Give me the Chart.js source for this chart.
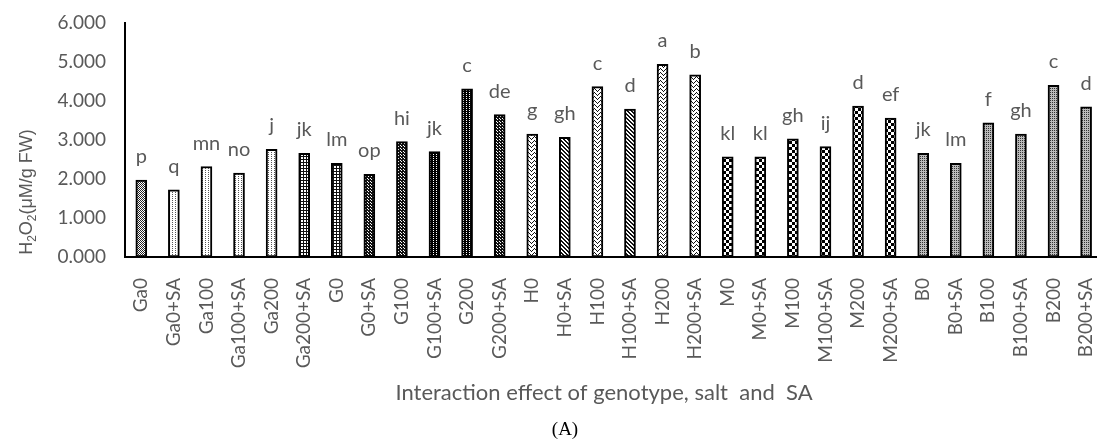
<!DOCTYPE html>
<html>
<head>
<meta charset="utf-8">
<script src="https://cdn.jsdelivr.net/npm/chart.js@4.4.1/dist/chart.umd.min.js"></script>
<style>
  html, body { margin: 0; padding: 0; background: #fff; overflow: hidden; }
  #wrap { width: 1112px; height: 441px; }
</style>
</head>
<body>
<div id="wrap"><canvas id="h2o2-chart" width="1112" height="441"></canvas></div>
<script>
// data
const treatments = ['Ga0', 'Ga0+SA', 'Ga100', 'Ga100+SA', 'Ga200', 'Ga200+SA',
  'G0', 'G0+SA', 'G100', 'G100+SA', 'G200', 'G200+SA',
  'H0', 'H0+SA', 'H100', 'H100+SA', 'H200', 'H200+SA',
  'M0', 'M0+SA', 'M100', 'M100+SA', 'M200', 'M200+SA',
  'B0', 'B0+SA', 'B100', 'B100+SA', 'B200', 'B200+SA'];
const h2o2Values = [1.97, 1.72, 2.32, 2.15, 2.76, 2.66,
  2.40, 2.12, 2.96, 2.70, 4.31, 3.65,
  3.15, 3.07, 4.37, 3.79, 4.94, 4.67,
  2.57, 2.57, 3.03, 2.83, 3.87, 3.56,
  2.66, 2.40, 3.44, 3.15, 4.40, 3.85];
const significanceLetters = ['p', 'q', 'mn', 'no', 'j', 'jk',
  'lm', 'op', 'hi', 'jk', 'c', 'de',
  'g', 'gh', 'c', 'd', 'a', 'b',
  'kl', 'kl', 'gh', 'ij', 'd', 'ef',
  'jk', 'lm', 'f', 'gh', 'c', 'd'];
const yMin = 0;
const yMax = 6;
const yStep = 1;

const xTitle = 'Interaction effect of genotype, salt  and  SA';
const panelTag = '(A)';

const canvas = document.getElementById('h2o2-chart');
const ctx = canvas.getContext('2d');

// small repeating fills, like the Excel pattern fills
function tile(w, h, draw) {
    const c = document.createElement('canvas');
    c.width = w;
    c.height = h;
    draw(c.getContext('2d'));
    return ctx.createPattern(c, 'repeat');
}

const fills = {
    fineGrey: tile(2, 2, g => {
        g.fillStyle = '#fff'; g.fillRect(0, 0, 2, 2);
        g.fillStyle = '#222'; g.fillRect(0, 0, 1, 1); g.fillRect(1, 1, 1, 1);
    }),
    lightDots: tile(3, 2, g => {
        g.fillStyle = '#fff'; g.fillRect(0, 0, 3, 2);
        g.fillStyle = '#555'; g.fillRect(1, 0, 1, 1);
    }),
    grid: tile(3, 3, g => {
        g.fillStyle = '#fff'; g.fillRect(0, 0, 3, 3);
        g.fillStyle = '#111'; g.fillRect(0, 0, 3, 1); g.fillRect(0, 0, 1, 3);
    }),
    darkDots: tile(3, 3, g => {
        g.fillStyle = '#111'; g.fillRect(0, 0, 3, 3);
        g.fillStyle = '#fff'; g.fillRect(1, 1, 1, 1); g.fillRect(2, 2, 1, 1);
    }),
    blackLine: tile(3, 2, g => {
        g.fillStyle = '#000'; g.fillRect(0, 0, 3, 2);
        g.fillStyle = '#fff'; g.fillRect(1, 0, 1, 1);
    }),
    weave: tile(6, 4, g => {
        g.fillStyle = '#fff'; g.fillRect(0, 0, 6, 4);
        g.fillStyle = '#111';
        g.fillRect(0, 0, 1, 1); g.fillRect(1, 1, 1, 1); g.fillRect(2, 2, 1, 1);
        g.fillRect(3, 3, 1, 1); g.fillRect(4, 2, 1, 1); g.fillRect(5, 1, 1, 1);
    }),
    weaveDark: tile(4, 4, g => {
        g.fillStyle = '#fff'; g.fillRect(0, 0, 4, 4);
        g.fillStyle = '#111';
        g.fillRect(0, 0, 2, 1); g.fillRect(1, 1, 2, 1); g.fillRect(2, 2, 2, 1); g.fillRect(0, 3, 1, 1); g.fillRect(3, 3, 1, 1);
    }),
    checker: tile(6, 6, g => {
        g.fillStyle = '#fff'; g.fillRect(0, 0, 6, 6);
        g.fillStyle = '#000'; g.fillRect(0, 0, 3, 3); g.fillRect(3, 3, 3, 3);
    }),
    greyDots: tile(2, 2, g => {
        g.fillStyle = '#bbb'; g.fillRect(0, 0, 2, 2);
        g.fillStyle = '#333'; g.fillRect(0, 0, 1, 1);
    })
};

const barFills = [
    'fineGrey', 'lightDots', 'lightDots', 'lightDots', 'lightDots', 'grid',
    'grid', 'darkDots', 'darkDots', 'blackLine', 'blackLine', 'darkDots',
    'weave', 'weaveDark', 'weave', 'weaveDark', 'weave', 'weave',
    'checker', 'checker', 'checker', 'checker', 'checker', 'checker',
    'greyDots', 'greyDots', 'greyDots', 'greyDots', 'greyDots', 'greyDots'
].map(k => fills[k]);

const textGrey = '#595959';

// letters over the bars
const letterLabels = {
    id: 'letterLabels',
    afterDatasetsDraw(chart) {
        const c = chart.ctx;
        const meta = chart.getDatasetMeta(0);
        c.save();
        c.font = '20px Lato';
        c.fillStyle = textGrey;
        c.textAlign = 'center';
        c.textBaseline = 'alphabetic';
        meta.data.forEach((bar, i) => {
            c.fillText(significanceLetters[i], bar.x, bar.y - 17);
        });
        c.restore();
    }
};

// axis titles (the y one needs subscripts) and the panel tag
const titles = {
    id: 'titles',
    afterDraw(chart) {
        const c = chart.ctx;
        c.save();
        c.fillStyle = textGrey;
        c.textBaseline = 'middle';
        c.textAlign = 'center';
        c.font = '22px Lato';
        c.fillText(xTitle, 604, 393);
        c.fillStyle = '#000';
        c.font = '19px "Liberation Serif"';
        c.fillText(panelTag, 565, 430);

        const parts = [['H', 0], ['2', 1], ['O', 0], ['2', 1], ['(\u03bcM/g FW)', 0]];
        const big = '18px "Liberation Sans"';
        const small = '12px "Liberation Sans"';
        let total = 0;
        parts.forEach(([t, sub]) => { c.font = sub ? small : big; total += c.measureText(t).width; });
        c.translate(32, 192);
        c.rotate(-Math.PI / 2);
        c.textAlign = 'left';
        c.textBaseline = 'alphabetic';
        c.fillStyle = textGrey;
        let x = -total / 2;
        parts.forEach(([t, sub]) => {
            c.font = sub ? small : big;
            c.fillText(t, x, sub ? 4 : 0);
            x += c.measureText(t).width;
        });
        c.restore();
    }
};

new Chart(ctx, {
    type: 'bar',
    data: {
        labels: treatments,
        datasets: [{
            data: h2o2Values,
            backgroundColor: barFills,
            borderColor: '#000',
            borderWidth: 2,
            borderSkipped: false,
            barThickness: 11
        }]
    },
    options: {
        responsive: false,
        animation: false,
        layout: { padding: { top: 23, right: 6, left: 0, bottom: 0 } },
        plugins: {
            legend: { display: false },
            tooltip: { enabled: false }
        },
        scales: {
            x: {
                grid: { display: false, drawTicks: true, tickLength: 18 },
                border: { color: '#000', width: 2 },
                ticks: {
                    color: textGrey,
                    font: { family: 'Lato', size: 19 },
                    minRotation: 90,
                    maxRotation: 90,
                    autoSkip: false,
                    padding: 3
                },
                afterFit(scale) { scale.height = 184; }
            },
            y: {
                min: yMin,
                max: yMax,
                grid: { display: false, drawTicks: true, tickLength: 16 },
                border: { color: '#000', width: 2 },
                ticks: {
                    stepSize: yStep,
                    color: textGrey,
                    font: { family: 'Lato', size: 19 },
                    padding: 3,
                    callback: v => v.toFixed(3)
                },
                afterFit(scale) { scale.width = 125; }
            }
        }
    },
    plugins: [letterLabels, titles]
});
</script>
</body>
</html>
